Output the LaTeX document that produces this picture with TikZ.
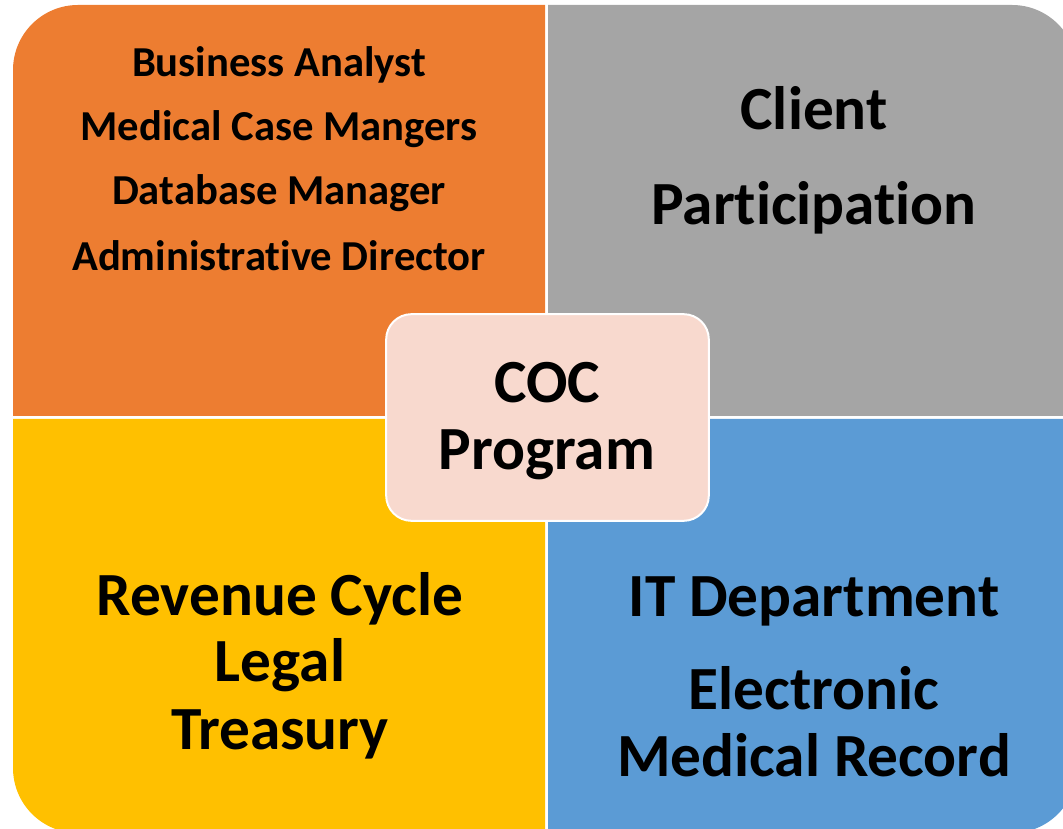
\documentclass[tikz,border=0pt]{standalone}
\usepackage{fontspec}
\setmainfont{Carlito}[Ligatures={NoCommon,NoContextual}]

\definecolor{qorange}{HTML}{ED7D31}
\definecolor{qgray}{HTML}{A5A5A5}
\definecolor{qyellow}{HTML}{FFC000}
\definecolor{qblue}{HTML}{5B9BD5}
\definecolor{hubpink}{HTML}{F8D9CE}

\begin{document}
\begin{tikzpicture}[
x=0.75pt,y=0.75pt,
small/.style={font=\fontsize{32}{38}\selectfont\bfseries,anchor=base,inner sep=0pt},
big/.style={font=\fontsize{46}{54}\selectfont\bfseries,anchor=base,inner sep=0pt},
hub/.style={rectangle,rounded corners=19pt,draw=white,line width=1.5pt,fill=hubpink,
  minimum width=242pt,minimum height=155pt,inner sep=0pt}
]
\useasboundingbox (0,0) rectangle (1063,828);
\clip (0,0) rectangle (1063,828);

% four quadrants, outer corners rounded
\fill[qorange] (13,412) -- (13,758) arc[start angle=180,end angle=90,radius=65] -- (545,823) -- (545,412) -- cycle;
\fill[qgray] (548,412) -- (548,823) -- (1012,823) arc[start angle=90,end angle=0,radius=65] -- (1077,412) -- cycle;
\fill[qyellow] (13,409) -- (545,409) -- (545,-5) -- (78,-5) arc[start angle=270,end angle=180,radius=65] -- cycle;
\fill[qblue] (548,409) -- (1077,409) -- (1077,60) arc[start angle=0,end angle=-90,radius=65] -- (548,-5) -- cycle;

% team
\node[small] (ba) at (279,751) {Business Analyst};
\node[small] (mcm) at (279,687) {Medical Case Mangers};
\node[small] (dbm) at (279,623) {Database Manager};
\node[small] (adm) at (279,557) {Administrative Director};

% client
\node[big] (cl) at (814,698) {Client};
\node[big] (part) at (814,603) {Participation};

% finance
\node[big] (rev) at (280,212) {Revenue Cycle};
\node[big] (leg) at (280,146) {Legal};
\node[big] (tre) at (280,79) {Treasury};

% IT
\node[big] (itd) at (814,211) {IT Department};
\node[big] (ele) at (814,118) {Electronic};
\node[big] (emr) at (814,52) {Medical Record};

% centre
\node[hub] (hub) at (547.5,410.5) {};
\node[big] (coc) at (547,425) {COC};
\node[big] (prog) at (547,358) {Program};

\end{tikzpicture}
\end{document}
